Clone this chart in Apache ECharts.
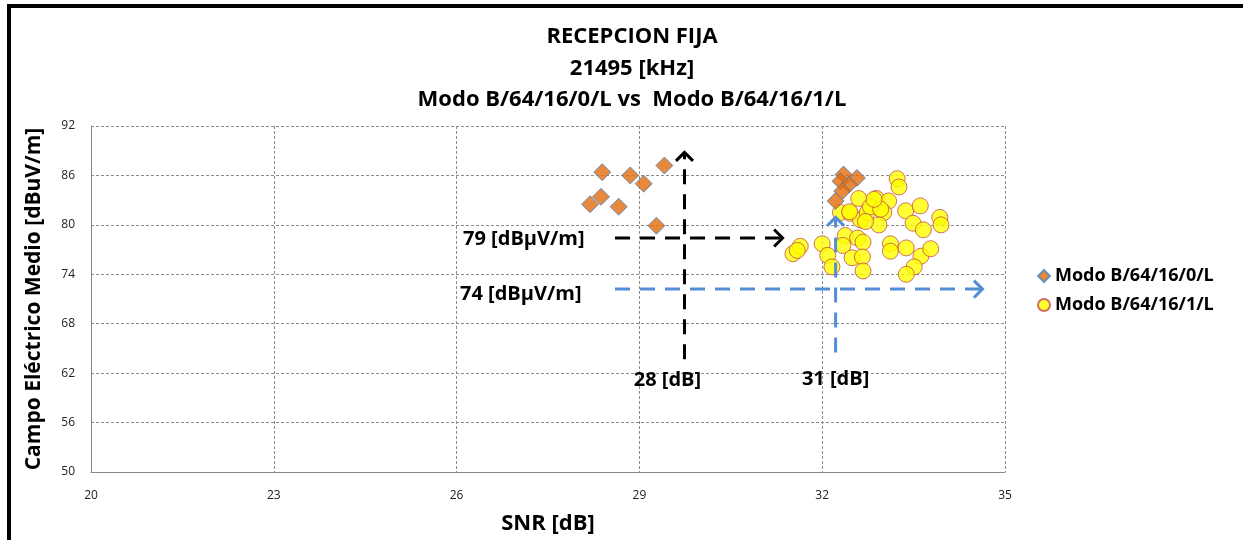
<!DOCTYPE html>
<html>
<head>
<meta charset="utf-8">
<script src="https://cdn.jsdelivr.net/npm/echarts@6/dist/echarts.min.js"></script>
<style>
html,body{margin:0;padding:0;background:#fff;}
#chart{width:1243px;height:540px;}
</style>
</head>
<body>
<div id="chart"></div>
<script>
// ---- Data ----
const titleLines = ['RECEPCION FIJA', '21495 [kHz]', 'Modo B/64/16/0/L vs  Modo B/64/16/1/L'];
const seriesNames = ['Modo B/64/16/0/L', 'Modo B/64/16/1/L'];
const xTicks = { min: 20, max: 35, interval: 3 };
const yTicks = { min: 50, max: 92, interval: 6 };

// Modo B/64/16/0/L  [SNR dB, field dBuV/m]
const mode0 = [
  [28.39, 86.4], [28.85, 86.0], [29.07, 85.0], [29.41, 87.2],
  [28.37, 83.4], [28.19, 82.5], [28.66, 82.2], [29.28, 79.9],
  [32.35, 86.1], [32.57, 85.7], [32.30, 85.3], [32.44, 84.9],
  [32.33, 84.1], [32.22, 82.9]
];

// Modo B/64/16/1/L
const mode1 = [
  [31.52, 76.5], [31.64, 77.4], [31.59, 76.9], [32.00, 77.7], [32.09, 76.3],
  [32.16, 74.9], [32.30, 81.5], [32.46, 81.4], [32.60, 83.2], [32.38, 78.7],
  [32.34, 77.5], [32.58, 78.4], [32.67, 77.9], [32.49, 76.0], [32.66, 76.1],
  [32.67, 74.4], [32.63, 80.6], [32.89, 83.2], [33.09, 82.9], [33.01, 81.5],
  [32.93, 80.0], [32.74, 81.5], [33.23, 85.6], [33.26, 84.6], [33.37, 81.7],
  [33.61, 82.3], [33.49, 80.2], [33.66, 79.4], [33.93, 80.9], [33.95, 80.0],
  [33.12, 77.7], [33.12, 76.8], [33.38, 77.2], [33.62, 76.2], [33.78, 77.1],
  [33.51, 74.9], [33.38, 74.0], [32.45, 81.6], [32.79, 82.2], [32.96, 81.9],
  [32.71, 80.4], [32.85, 83.1]
];

// Guide arrows [x1, y1, x2(tip), y2(tip)]
const blackArrows = [
  [28.60, 78.4, 31.35, 78.4],
  [29.74, 63.7, 29.74, 88.8]
];
const blueArrows = [
  [28.60, 72.2, 34.63, 72.2],
  [32.22, 64.5, 32.22, 80.9]
];
// Annotation texts [x, y, text, align]
const annotations = [
  [28.10, 78.3, '79 [dBµV/m]', 'right'],
  [28.05, 71.6, '74 [dBµV/m]', 'right'],
  [29.46, 61.1, '28 [dB]', 'center'],
  [32.22, 61.3, '31 [dB]', 'center']
];

const FONT = '"Open Sans"';

function arrowRender(color) {
  return function (params, api) {
    const p1 = api.coord([api.value(0), api.value(1)]);
    const p2 = api.coord([api.value(2), api.value(3)]);
    const dx = p2[0] - p1[0], dy = p2[1] - p1[1];
    const len = Math.sqrt(dx * dx + dy * dy) || 1;
    const ux = dx / len, uy = dy / len;
    const h = 12, a = Math.PI / 4;
    const c = Math.cos(a), s = Math.sin(a);
    const l1 = [p2[0] - h * (ux * c - uy * s), p2[1] - h * (uy * c + ux * s)];
    const l2 = [p2[0] - h * (ux * c + uy * s), p2[1] - h * (uy * c - ux * s)];
    return {
      type: 'group',
      children: [
        { type: 'line', shape: { x1: p1[0], y1: p1[1], x2: p2[0] - ux * 2, y2: p2[1] - uy * 2 },
          style: { stroke: color, lineWidth: 3, lineDash: [15, 10] } },
        { type: 'polyline', shape: { points: [l1, p2, l2] },
          style: { stroke: color, lineWidth: 3, fill: null } }
      ]
    };
  };
}

const chart = echarts.init(document.getElementById('chart'), null, { renderer: 'canvas' });

chart.setOption({
  animation: false,
  backgroundColor: '#fff',
  textStyle: { fontFamily: FONT },
  title: {
    text: titleLines.join('\n'),
    left: 627, top: 16, textAlign: 'center',
    textStyle: { fontFamily: FONT, fontWeight: 'bold', fontSize: 22, lineHeight: 31.5, color: '#000' }
  },
  graphic: [
    { type: 'rect', shape: { x: 9, y: 6, width: 1250, height: 550 },
      style: { stroke: '#000', lineWidth: 4, fill: null }, silent: true }
  ],
  legend: {
    orient: 'vertical', left: 1032, top: 262, itemGap: 11,
    itemWidth: 12, itemHeight: 12,
    data: seriesNames,
    textStyle: { fontFamily: FONT, fontWeight: 'bold', fontSize: 18, color: '#000' }
  },
  grid: { left: 91, right: 238, top: 126, bottom: 64, containLabel: false },
  xAxis: {
    type: 'value', min: xTicks.min, max: xTicks.max, interval: xTicks.interval,
    name: 'SNR [dB]', nameLocation: 'middle', nameGap: 41,
    nameTextStyle: { fontFamily: FONT, fontWeight: 'bold', fontSize: 22, color: '#000' },
    axisLine: { show: true, lineStyle: { color: '#868686', width: 1 } },
    axisTick: { show: false },
    axisLabel: { color: '#222', fontSize: 12, margin: 18, fontFamily: FONT },
    splitLine: { show: true, lineStyle: { color: '#8c8c8c', type: [3, 2], width: 1 } }
  },
  yAxis: {
    type: 'value', min: yTicks.min, max: yTicks.max, interval: yTicks.interval,
    name: 'Campo Eléctrico Medio [dBuV/m]', nameLocation: 'middle', nameGap: 46,
    nameTextStyle: { fontFamily: FONT, fontWeight: 'bold', fontSize: 21, color: '#000' },
    axisLine: { show: true, lineStyle: { color: '#868686', width: 1 } },
    axisTick: { show: false },
    axisLabel: { color: '#222', fontSize: 12, margin: 16, fontFamily: FONT },
    splitLine: { show: true, lineStyle: { color: '#8c8c8c', type: [3, 2], width: 1 } }
  },
  series: [
    {
      name: seriesNames[0], type: 'scatter', symbol: 'diamond', symbolSize: 17, z: 4,
      itemStyle: { color: '#E46C0A', borderColor: '#4F81BD', borderWidth: 1 },
      data: mode0
    },
    {
      name: seriesNames[1], type: 'scatter', symbol: 'circle', symbolSize: 16, z: 3,
      itemStyle: { color: '#FFFF00', borderColor: '#C0504D', borderWidth: 1 },
      data: mode1
    },
    {
      type: 'custom', name: 'blackArrows', z: 5, renderItem: arrowRender('#000'),
      data: blackArrows, silent: true
    },
    {
      type: 'custom', name: 'blueArrows', z: 5, renderItem: arrowRender('#558ED5'),
      data: blueArrows, silent: true
    },
    {
      type: 'custom', name: 'notes', z: 6, silent: true,
      data: annotations.map(a => [a[0], a[1]]),
      encode: { x: 0, y: 1 },
      renderItem: function (params, api) {
        const a = annotations[params.dataIndex];
        const p = api.coord([a[0], a[1]]);
        return { type: 'text', x: p[0], y: p[1],
          style: { text: a[2], textAlign: a[3], textVerticalAlign: 'middle',
            font: 'bold 20px ' + FONT, fill: '#000' } };
      }
    }
  ]
});
</script>
</body>
</html>
